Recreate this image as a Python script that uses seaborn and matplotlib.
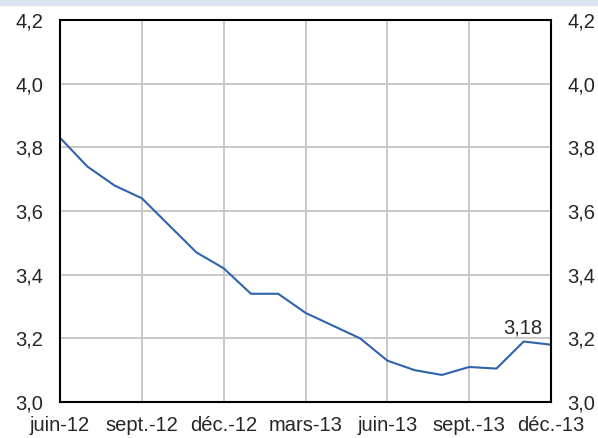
import numpy as np
import pandas as pd
import seaborn as sns
import matplotlib.pyplot as plt
from matplotlib.ticker import FuncFormatter
from matplotlib.patches import Rectangle

# Monthly values, juin-12 to déc.-13
months = ['juin-12', 'juil.-12', 'août-12', 'sept.-12', 'oct.-12', 'nov.-12', 'déc.-12',
          'janv.-13', 'févr.-13', 'mars-13', 'avr.-13', 'mai-13', 'juin-13', 'juil.-13',
          'août-13', 'sept.-13', 'oct.-13', 'nov.-13', 'déc.-13']
values = [3.83, 3.74, 3.68, 3.64, 3.555, 3.47, 3.42, 3.34, 3.34, 3.28, 3.24, 3.20,
          3.13, 3.10, 3.085, 3.11, 3.105, 3.19, 3.18]
tick_labels = ['juin-12', 'sept.-12', 'déc.-12', 'mars-13', 'juin-13', 'sept.-13', 'déc.-13']
y_ticks = [3.0, 3.2, 3.4, 3.6, 3.8, 4.0, 4.2]

df = pd.DataFrame({'idx': np.arange(len(months)), 'value': values})

sns.set_style('white')
plt.rcParams['font.family'] = ['Liberation Sans', 'DejaVu Sans']

fig = plt.figure(figsize=(5.98, 4.38), dpi=100)
fig.patches.append(Rectangle((0, 1 - 5 / 438), 1, 5 / 438, transform=fig.transFigure,
                             color='#dbe5f1', zorder=0))
ax = fig.add_axes([60 / 598, 1 - 402 / 438, (551 - 60) / 598, (402 - 20) / 438])

sns.lineplot(data=df, x='idx', y='value', ax=ax, color='#2e63ad', linewidth=1.5)

ax.set_xlim(0, len(months) - 1)
ax.set_ylim(3.0, 4.2)
ax.set_xticks(np.arange(0, len(months), 3))
ax.set_xticklabels(tick_labels)
ax.set_yticks(y_ticks)
ax.yaxis.set_major_formatter(FuncFormatter(lambda v, p: f'{v:.1f}'.replace('.', ',')))
ax.grid(True, color='#c8c8c8', linewidth=1.4)
ax.set_axisbelow(True)
for s in ax.spines.values():
    s.set_visible(True)
    s.set_color('black')
    s.set_linewidth(1.5)
ax.tick_params(axis='y', length=0, pad=12, labelsize=14.5, labelright=True)
ax.tick_params(axis='x', length=0, pad=10, labelsize=14.5)
ax.set_xlabel('')
ax.set_ylabel('')

last = len(values) - 1
ax.annotate(f'{values[-1]:.2f}'.replace('.', ','), xy=(last, values[-1]),
            xytext=(-20, 5), textcoords='offset points', ha='center', va='bottom',
            fontsize=14.5)

fig.savefig('out.png', dpi=100)
